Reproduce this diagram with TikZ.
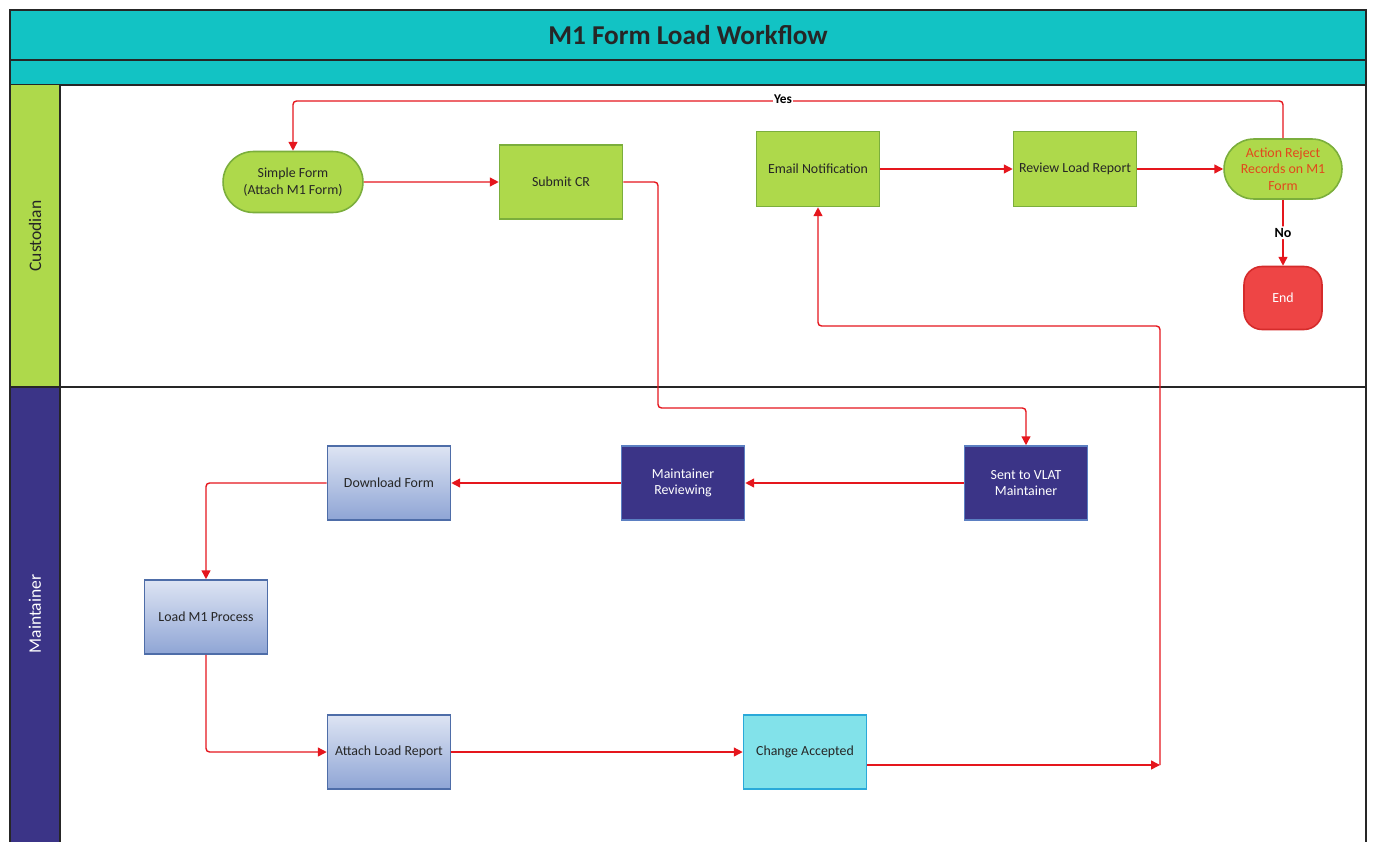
\documentclass[tikz,border=0pt]{standalone}
\usepackage{fontspec}
\setmainfont{Carlito}
\usepackage{tikz}
\usetikzlibrary{arrows.meta,positioning,shapes.misc}
\definecolor{HeadTeal}{HTML}{12C3C4}
\definecolor{LaneGreen}{HTML}{AED94B}
\definecolor{GreenEdge}{HTML}{7BAE3C}
\definecolor{LaneNavy}{HTML}{3B3487}
\definecolor{NavyEdge}{HTML}{5B7FC2}
\definecolor{BlueTop}{HTML}{DDE4F3}
\definecolor{BlueBot}{HTML}{8FA5D5}
\definecolor{BlueEdge}{HTML}{4E6DA8}
\definecolor{AccCyan}{HTML}{82E2EA}
\definecolor{CyanEdge}{HTML}{2AA9D9}
\definecolor{EndRed}{HTML}{EE4545}
\definecolor{EndEdge}{HTML}{D52B2B}
\definecolor{FlowRed}{HTML}{E5161D}
\definecolor{RejText}{HTML}{E2481C}
\definecolor{InkGray}{HTML}{262626}

\begin{document}
\begin{tikzpicture}[x=0.02cm,y=-0.02cm,
    font=\fontsize{7.9}{9.4}\selectfont,
    box/.style={draw,line width=0.9pt,minimum width=2.46cm,minimum height=1.48cm,
      align=center,inner sep=2pt},
    custbox/.style={box,fill=LaneGreen,draw=GreenEdge,text=InkGray},
    navybox/.style={box,fill=LaneNavy,draw=NavyEdge,text=white},
    bluebox/.style={box,top color=BlueTop,bottom color=BlueBot,draw=BlueEdge,text=InkGray},
    stadium/.style={rounded rectangle,draw=GreenEdge,fill=LaneGreen,line width=0.9pt,
      align=center,inner sep=2pt},
    flow/.style={draw=FlowRed,line width=0.8pt,rounded corners=2pt,
      -{Triangle[length=5pt,width=5pt]}},
    lanetext/.style={rotate=90,font=\fontsize{10}{12}\selectfont},
    frameline/.style={line width=1.2pt,draw=black!85}]
  \useasboundingbox (0,0) rectangle (1373,842);

  % header bands
  \fill[HeadTeal] (10,10) rectangle (1366,85);
  \draw[frameline] (10,10) rectangle (1366,85);
  \draw[frameline] (10,60) -- (1366,60);
  \node[font=\fontsize{15.5}{18}\selectfont\bfseries,text=black!85] (title) at (688,35) {M1 Form Load Workflow};

  % lanes
  \fill[LaneGreen] (10,85) rectangle (60,387);
  \fill[LaneNavy] (10,387) rectangle (60,842);
  \draw[frameline] (10,85) -- (10,842) (60,85) -- (60,842) (1366,85) -- (1366,842);
  \draw[frameline] (10,387) -- (1366,387);
  \node[lanetext,text=InkGray] (custlane) at (35,236) {Custodian};
  \node[lanetext,text=white] (mntlane) at (35,614) {Maintainer};

  % custodian steps
  \node[stadium,text=InkGray,minimum width=2.94cm,minimum height=1.22cm] (sform) at (293,182)
    {Simple Form\\(Attach M1 Form)};
  \node[custbox] (submit) at (561,182) {Submit CR};
  \node[custbox,minimum height=1.5cm] (email) at (818,169) {Email Notification};
  \node[custbox,minimum height=1.5cm] (review) at (1075,169) {Review Load Report};
  \node[stadium,text=RejText,minimum width=2.5cm,minimum height=1.2cm] (reject) at (1283,169)
    {Action Reject\\Records on M1\\Form};
  \node[draw=EndEdge,fill=EndRed,text=white,line width=0.9pt,rounded corners=0.36cm,
    minimum width=1.56cm,minimum height=1.26cm] (stop) at (1283,298) {End};

  % maintainer steps
  \node[navybox] (sent) at (1026,483) {Sent to VLAT\\Maintainer};
  \node[navybox] (mreview) at (683,483) {Maintainer\\Reviewing};
  \node[bluebox] (dform) at (389,483) {Download Form};
  \node[bluebox] (loadm) at (206,617) {Load M1 Process};
  \node[bluebox] (attach) at (389,752) {Attach Load Report};
  \node[box,fill=AccCyan,draw=CyanEdge,text=InkGray] (accept) at (805,752) {Change Accepted};

  % helper points
  \coordinate (c1) at (658,408);
  \coordinate (jn) at (1160,765);
  \coordinate (jt) at (1160,326);
  \coordinate (yesln) at (783,101);

  % connectors
  \draw[flow] (sform) -- (submit);
  \draw[flow] (submit.east) -| (c1) -| (sent.north);
  \draw[flow] (sent) -- (mreview);
  \draw[flow] (mreview) -- (dform);
  \draw[flow] (dform.west) -| (loadm.north);
  \draw[flow] (loadm.south) |- (attach.west);
  \draw[flow] (attach) -- (accept);
  \draw[flow] (accept.east |- jn) -- (jn);
  \draw[flow] (jn) -- (jt) -| (email.south);
  \draw[flow] (email) -- (review);
  \draw[flow] (review) -- (reject);
  \draw[flow] (reject.north) |- (yesln) -| (sform.north);
  \node[fill=white,inner sep=0.5pt,font=\fontsize{7.6}{9}\selectfont\bfseries,yshift=1pt] (yes) at (yesln) {Yes};
  \draw[flow] (reject.south) -- node[fill=white,inner sep=1pt,font=\fontsize{8}{9}\selectfont\bfseries] (no) {No} (stop.north);
\end{tikzpicture}
\end{document}
